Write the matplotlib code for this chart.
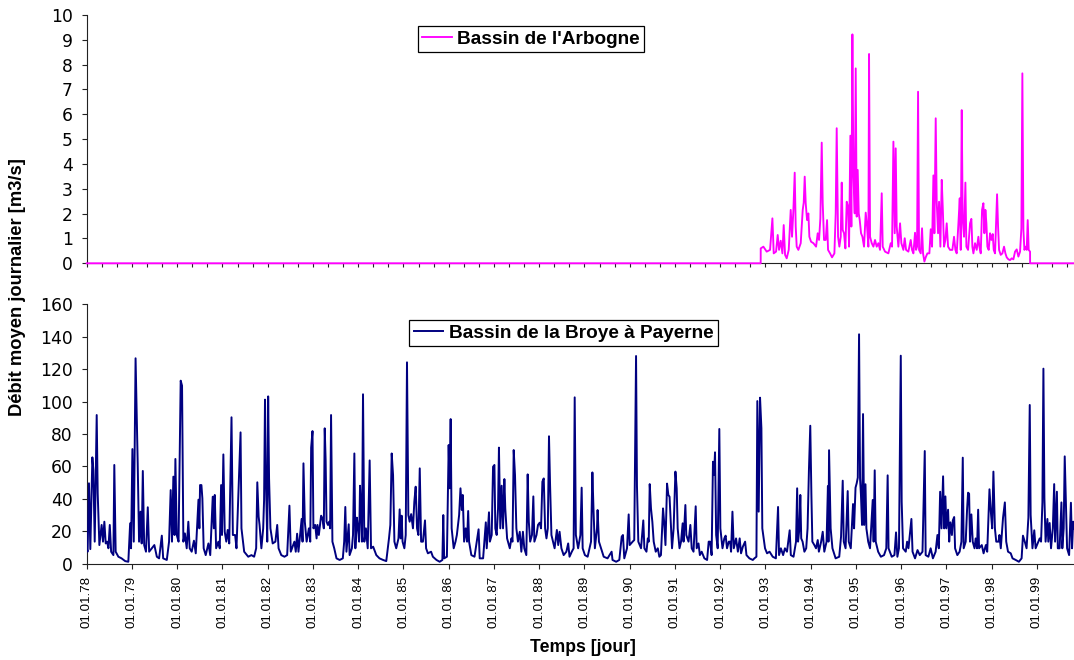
import matplotlib
matplotlib.use('Agg')
import matplotlib.pyplot as plt
import numpy as np

plt.rcParams['font.family'] = ['Liberation Sans', 'DejaVu Sans']

# ---------------- data (decimal years, m3/s) ----------------
arbogne_t = [1978.000, 1992.894,
             1992.895, 1992.954, 1993.027, 1993.101, 1993.153, 1993.182, 1993.234, 1993.270,
             1993.300, 1993.337, 1993.374, 1993.403, 1993.433, 1993.469, 1993.514, 1993.558,
             1993.587, 1993.617, 1993.646, 1993.668, 1993.690, 1993.727, 1993.779, 1993.823,
             1993.845, 1993.867, 1993.889, 1993.919, 1993.948, 1993.970, 1994.007, 1994.059,
             1994.118, 1994.154, 1994.184, 1994.213, 1994.243, 1994.265, 1994.294, 1994.331,
             1994.361, 1994.383, 1994.427, 1994.471, 1994.523, 1994.552, 1994.574, 1994.604,
             1994.633, 1994.663, 1994.685, 1994.707, 1994.736, 1994.766, 1994.795, 1994.825,
             1994.847, 1994.876, 1994.898, 1994.921, 1994.943, 1994.972, 1994.994, 1995.016,
             1995.038, 1995.061, 1995.083, 1995.112, 1995.142, 1995.178, 1995.215, 1995.245,
             1995.274, 1995.289, 1995.311, 1995.348, 1995.385, 1995.421, 1995.458, 1995.495,
             1995.532, 1995.569, 1995.591, 1995.642, 1995.716, 1995.768, 1995.797, 1995.827,
             1995.856, 1995.878, 1995.900, 1995.937, 1995.974, 1996.003, 1996.048, 1996.077,
             1996.107, 1996.158, 1996.210, 1996.239, 1996.269, 1996.305, 1996.328, 1996.350,
             1996.372, 1996.394, 1996.431, 1996.460, 1996.482, 1996.512, 1996.541, 1996.578,
             1996.622, 1996.652, 1996.681, 1996.711, 1996.733, 1996.762, 1996.784, 1996.814,
             1996.836, 1996.865, 1996.895, 1996.917, 1996.946, 1996.976, 1997.005, 1997.035,
             1997.079, 1997.130, 1997.167, 1997.197, 1997.226, 1997.263, 1997.293, 1997.315,
             1997.337, 1997.359, 1997.388, 1997.418, 1997.440, 1997.477, 1997.521, 1997.550,
             1997.572, 1997.595, 1997.631, 1997.668, 1997.705, 1997.727, 1997.757, 1997.786,
             1997.816, 1997.838, 1997.860, 1997.882, 1997.904, 1997.933, 1997.963, 1997.992,
             1998.022, 1998.044, 1998.073, 1998.118, 1998.140, 1998.162, 1998.199, 1998.235,
             1998.272, 1998.302, 1998.331, 1998.368, 1998.405, 1998.442, 1998.479, 1998.515,
             1998.552, 1998.589, 1998.626, 1998.655, 1998.677, 1998.700, 1998.722, 1998.751,
             1998.773, 1998.795, 1998.817, 1998.847,
             1998.848, 1999.820]
arbogne_q = [0.0, 0.0,
             0.60, 0.67, 0.47, 0.54, 1.81, 0.40, 0.47, 1.14,
             0.54, 0.91, 0.40, 1.54, 0.34, 0.20, 0.54, 2.15,
             1.07, 2.15, 3.65, 1.48, 0.67, 0.54, 0.81, 2.15,
             2.44, 3.49, 2.42, 1.74, 2.01, 1.07, 0.87, 0.81,
             0.67, 1.21, 0.94, 1.81, 4.86, 2.42, 0.94, 0.94,
             1.74, 0.54, 0.40, 0.24, 0.40, 2.01, 5.44, 1.07,
             0.67, 1.07, 3.25, 1.34, 1.21, 0.60, 2.48, 2.28,
             0.67, 5.14, 1.48, 9.22, 3.62, 2.01, 7.85, 1.88,
             3.76, 2.01, 1.74, 1.21, 1.07, 0.67, 2.04, 1.48,
             0.67, 8.43, 1.07, 0.81, 0.67, 0.94, 0.67, 0.81,
             0.54, 2.82, 0.67, 0.47, 0.40, 0.81, 0.67, 4.90,
             1.21, 4.63, 1.48, 0.67, 1.61, 0.81, 0.54, 1.01,
             0.54, 0.47, 0.94, 0.54, 0.40, 1.23, 0.54, 0.67,
             6.91, 0.54, 0.40, 1.41, 0.40, 0.07, 0.24, 0.40,
             0.40, 1.37, 0.67, 3.54, 1.21, 5.84, 2.48, 1.21,
             2.48, 0.67, 3.36, 2.28, 0.67, 0.94, 1.61, 0.67,
             0.54, 0.54, 1.07, 0.54, 0.40, 1.58, 2.62, 0.54,
             6.17, 1.74, 1.07, 3.25, 0.67, 0.54, 1.61, 1.79,
             0.67, 0.40, 0.81, 0.54, 1.07, 0.67, 0.40, 2.15,
             2.42, 1.21, 2.15, 1.61, 0.67, 0.54, 1.21, 0.94,
             1.18, 0.54, 0.40, 2.78, 1.48, 0.54, 0.34, 0.40,
             0.67, 0.40, 0.24, 0.16, 0.13, 0.20, 0.16, 0.47,
             0.56, 0.27, 0.47, 1.41, 7.65, 1.34, 0.54, 0.67,
             0.54, 1.74, 0.54, 0.47,
             0.0, 0.0]

broye_t = [1978.000, 1978.020, 1978.050, 1978.080, 1978.125, 1978.147, 1978.177, 1978.221, 1978.243, 1978.280,
           1978.330, 1978.360, 1978.390, 1978.420, 1978.450, 1978.480, 1978.510, 1978.540, 1978.590, 1978.610,
           1978.640, 1978.700, 1978.770, 1978.850, 1978.920, 1978.960, 1978.980, 1979.010, 1979.040, 1979.080,
           1979.105, 1979.127, 1979.157, 1979.190, 1979.215, 1979.240, 1979.270, 1979.310, 1979.350, 1979.380,
           1979.440, 1979.495, 1979.550, 1979.600, 1979.660, 1979.690, 1979.770, 1979.820, 1979.856, 1979.885,
           1979.915, 1979.940, 1979.960, 1979.990, 1980.030, 1980.077, 1980.107, 1980.136, 1980.170, 1980.210,
           1980.246, 1980.276, 1980.320, 1980.370, 1980.410, 1980.470, 1980.490, 1980.505, 1980.535, 1980.556,
           1980.585, 1980.630, 1980.690, 1980.730, 1980.785, 1980.810, 1980.830, 1980.860, 1980.910, 1980.940,
           1980.970, 1980.990, 1981.020, 1981.050, 1981.085, 1981.115, 1981.150, 1981.180, 1981.200, 1981.230,
           1981.280, 1981.310, 1981.400, 1981.420, 1981.480, 1981.570, 1981.640, 1981.700, 1981.745, 1981.770,
           1981.800, 1981.820, 1981.860, 1981.900, 1981.920, 1981.940, 1981.960, 1981.990, 1982.010, 1982.030,
           1982.060, 1982.110, 1982.170, 1982.210, 1982.240, 1982.300, 1982.370, 1982.430, 1982.480, 1982.510,
           1982.590, 1982.620, 1982.650, 1982.680, 1982.750, 1982.770, 1982.790, 1982.820, 1982.860, 1982.910,
           1982.940, 1982.960, 1982.990, 1983.010, 1983.050, 1983.080, 1983.100, 1983.130, 1983.180, 1983.210,
           1983.240, 1983.260, 1983.280, 1983.300, 1983.330, 1983.360, 1983.380, 1983.400, 1983.430, 1983.470,
           1983.520, 1983.590, 1983.660, 1983.690, 1983.715, 1983.740, 1983.790, 1983.810, 1983.860, 1983.885,
           1983.915, 1983.937, 1983.970, 1983.995, 1984.020, 1984.040, 1984.060, 1984.083, 1984.106, 1984.135,
           1984.170, 1984.210, 1984.253, 1984.283, 1984.330, 1984.400, 1984.470, 1984.550, 1984.620, 1984.680,
           1984.710, 1984.740, 1984.770, 1984.800, 1984.840, 1984.890, 1984.916, 1984.940, 1984.960, 1984.980,
           1985.020, 1985.050, 1985.078, 1985.108, 1985.137, 1985.170, 1985.210, 1985.240, 1985.270, 1985.300,
           1985.330, 1985.360, 1985.390, 1985.430, 1985.476, 1985.500, 1985.540, 1985.610, 1985.650, 1985.730,
           1985.800, 1985.860, 1985.880, 1985.900, 1985.960, 1985.999, 1986.020, 1986.043, 1986.065, 1986.110,
           1986.150, 1986.180, 1986.230, 1986.260, 1986.290, 1986.310, 1986.340, 1986.375, 1986.405, 1986.430,
           1986.450, 1986.500, 1986.570, 1986.660, 1986.685, 1986.760, 1986.820, 1986.840, 1986.890, 1986.910,
           1986.950, 1986.980, 1987.010, 1987.030, 1987.060, 1987.090, 1987.110, 1987.140, 1987.170, 1987.200,
           1987.230, 1987.250, 1987.290, 1987.350, 1987.385, 1987.410, 1987.436, 1987.465, 1987.495, 1987.530,
           1987.570, 1987.605, 1987.640, 1987.670, 1987.715, 1987.745, 1987.770, 1987.800, 1987.840, 1987.870,
           1987.893, 1987.940, 1987.973, 1988.010, 1988.040, 1988.070, 1988.100, 1988.130, 1988.160, 1988.190,
           1988.216, 1988.240, 1988.270, 1988.305, 1988.340, 1988.390, 1988.420, 1988.450, 1988.490, 1988.540,
           1988.600, 1988.640, 1988.670, 1988.720, 1988.760, 1988.784, 1988.810, 1988.860, 1988.910, 1988.938,
           1988.960, 1989.010, 1989.070, 1989.145, 1989.175, 1989.200, 1989.230, 1989.277, 1989.290, 1989.320,
           1989.366, 1989.425, 1989.510, 1989.600, 1989.620, 1989.700, 1989.770, 1989.823, 1989.850, 1989.880,
           1989.940, 1989.977, 1989.999, 1990.065, 1990.100, 1990.140, 1990.160, 1990.190, 1990.250, 1990.300,
           1990.324, 1990.370, 1990.400, 1990.420, 1990.442, 1990.470, 1990.500, 1990.530, 1990.575, 1990.620,
           1990.655, 1990.690, 1990.736, 1990.760, 1990.790, 1990.825, 1990.854, 1990.880, 1990.906, 1990.935,
           1990.970, 1991.010, 1991.038, 1991.060, 1991.100, 1991.134, 1991.170, 1991.190, 1991.230, 1991.250,
           1991.300, 1991.340, 1991.370, 1991.410, 1991.458, 1991.480, 1991.520, 1991.550, 1991.590, 1991.650,
           1991.710, 1991.745, 1991.775, 1991.810, 1991.840, 1991.863, 1991.885, 1991.910, 1991.944, 1991.980,
           1992.003, 1992.050, 1992.090, 1992.120, 1992.150, 1992.190, 1992.220, 1992.240, 1992.270, 1992.300,
           1992.350, 1992.390, 1992.430, 1992.460, 1992.500, 1992.550, 1992.580, 1992.645, 1992.720, 1992.755,
           1992.800, 1992.820, 1992.850, 1992.880, 1992.910, 1992.930, 1992.960, 1992.990, 1993.035, 1993.090,
           1993.160, 1993.230, 1993.278, 1993.300, 1993.340, 1993.390, 1993.430, 1993.475, 1993.535, 1993.560,
           1993.620, 1993.675, 1993.700, 1993.720, 1993.750, 1993.770, 1993.790, 1993.820, 1993.860, 1993.900,
           1993.930, 1993.960, 1993.990, 1994.015, 1994.036, 1994.080, 1994.117, 1994.155, 1994.180, 1994.230,
           1994.265, 1994.300, 1994.350, 1994.380, 1994.392, 1994.405, 1994.440, 1994.480, 1994.550, 1994.630,
           1994.670, 1994.707, 1994.730, 1994.770, 1994.817, 1994.840, 1994.885, 1994.935, 1994.958, 1994.990,
           1995.016, 1995.040, 1995.068, 1995.090, 1995.110, 1995.134, 1995.156, 1995.180, 1995.210, 1995.230,
           1995.270, 1995.310, 1995.370, 1995.390, 1995.414, 1995.436, 1995.490, 1995.550, 1995.620, 1995.670,
           1995.700, 1995.720, 1995.790, 1995.850, 1995.885, 1995.915, 1995.950, 1995.990, 1996.010, 1996.040,
           1996.100, 1996.130, 1996.160, 1996.225, 1996.250, 1996.305, 1996.360, 1996.410, 1996.470, 1996.520,
           1996.540, 1996.600, 1996.650, 1996.700, 1996.760, 1996.800, 1996.830, 1996.860, 1996.890, 1996.925,
           1996.950, 1996.976, 1996.998, 1997.035, 1997.060, 1997.086, 1997.120, 1997.140, 1997.170, 1997.190,
           1997.240, 1997.290, 1997.330, 1997.360, 1997.380, 1997.425, 1997.455, 1997.477, 1997.500, 1997.520,
           1997.550, 1997.580, 1997.620, 1997.645, 1997.675, 1997.700, 1997.720, 1997.780, 1997.820, 1997.870,
           1997.900, 1997.950, 1997.980, 1998.010, 1998.037, 1998.070, 1998.100, 1998.150, 1998.170, 1998.200,
           1998.250, 1998.290, 1998.320, 1998.360, 1998.420, 1998.460, 1998.530, 1998.600, 1998.660, 1998.690,
           1998.730, 1998.770, 1998.810, 1998.840, 1998.860, 1998.900, 1998.940, 1998.970, 1999.030, 1999.060,
           1999.090, 1999.120, 1999.142, 1999.164, 1999.190, 1999.230, 1999.250, 1999.280, 1999.310, 1999.350,
           1999.380, 1999.400, 1999.440, 1999.460, 1999.500, 1999.540, 1999.560, 1999.590, 1999.613, 1999.635,
           1999.665, 1999.710, 1999.750, 1999.775, 1999.800, 1999.820]
broye_q = [9.5, 7.4, 49.6, 9.0, 65.6, 57.8, 13.6, 91.7, 43.4, 11.5,
           23.9, 13.6, 25.9, 12.5, 13.6, 9.5, 23.9, 7.4, 5.3, 60.9,
           7.4, 4.3, 3.3, 1.6, 1.2, 24.9, 9.5, 70.7, 13.6, 126.7,
           92.1, 61.9, 13.6, 32.1, 12.5, 57.2, 11.5, 7.4, 34.8, 7.4,
           9.5, 11.5, 4.3, 3.3, 17.3, 3.3, 2.3, 13.6, 45.4, 13.6,
           53.7, 17.7, 64.6, 17.7, 13.6, 112.9, 109.8, 13.6, 18.7, 9.5,
           25.9, 9.5, 7.4, 14.2, 6.4, 39.5, 21.8, 48.5, 48.5, 40.3,
           9.5, 5.3, 12.5, 5.3, 41.3, 21.8, 42.4, 9.5, 13.6, 9.5,
           48.5, 17.7, 67.4, 19.7, 13.6, 20.8, 12.5, 59.6, 90.3, 17.7,
           17.7, 9.5, 81.0, 21.8, 7.4, 4.3, 5.3, 4.3, 9.5, 50.2,
           29.0, 23.9, 9.5, 21.8, 39.3, 101.2, 53.7, 13.6, 103.2, 52.6,
           21.8, 12.5, 13.6, 23.9, 9.5, 5.3, 4.3, 5.3, 35.8, 7.4,
           13.6, 7.4, 18.5, 7.4, 27.6, 13.6, 61.9, 25.9, 13.6, 21.8,
           13.6, 71.6, 81.8, 21.8, 23.9, 15.6, 23.9, 17.7, 29.6, 28.0,
           21.8, 83.5, 64.0, 25.9, 23.9, 25.9, 21.8, 91.7, 13.6, 9.5,
           3.3, 2.3, 3.3, 13.6, 35.0, 7.4, 24.3, 5.3, 9.5, 17.7,
           68.0, 9.5, 28.4, 21.8, 13.6, 48.1, 34.1, 13.6, 104.5, 13.6,
           21.8, 9.5, 63.7, 9.5, 10.5, 5.3, 3.3, 2.3, 1.6, 15.6,
           23.9, 68.0, 54.7, 13.6, 9.5, 15.6, 33.5, 15.6, 29.6, 13.6,
           9.5, 17.7, 124.2, 30.0, 25.9, 30.6, 21.8, 38.2, 47.5, 21.8,
           17.7, 58.8, 13.6, 13.6, 26.7, 9.5, 6.4, 7.4, 4.3, 2.3,
           1.2, 2.3, 30.0, 3.3, 4.3, 73.2, 46.5, 89.2, 21.8, 9.5,
           13.6, 17.7, 30.0, 46.5, 33.1, 42.4, 13.6, 21.8, 13.6, 32.5,
           13.6, 5.3, 4.3, 21.2, 3.3, 3.3, 25.5, 9.5, 31.7, 13.6,
           17.7, 59.8, 60.9, 21.8, 17.7, 34.1, 71.6, 21.8, 48.1, 21.8,
           52.2, 34.1, 15.6, 9.5, 15.6, 13.6, 70.1, 54.7, 21.8, 13.6,
           19.7, 7.4, 19.7, 9.5, 5.3, 55.1, 25.9, 13.6, 17.7, 41.5,
           13.6, 17.7, 23.9, 25.3, 21.8, 50.6, 52.6, 21.8, 15.6, 21.8,
           78.6, 48.5, 17.7, 13.6, 9.5, 20.8, 11.5, 19.7, 9.5, 5.3,
           7.4, 12.5, 4.3, 7.4, 9.5, 102.6, 17.7, 9.5, 17.7, 46.9,
           9.5, 5.3, 4.3, 13.6, 56.3, 33.1, 9.5, 21.8, 33.1, 13.6,
           9.5, 4.3, 3.3, 7.4, 2.3, 1.2, 2.3, 16.7, 17.7, 3.3,
           9.5, 30.4, 11.5, 13.6, 14.6, 128.1, 48.1, 13.6, 9.5, 26.7,
           9.5, 7.4, 15.6, 13.6, 49.1, 34.1, 25.9, 13.6, 7.4, 9.5,
           4.3, 5.3, 34.1, 25.9, 11.5, 49.4, 42.4, 41.3, 25.9, 9.5,
           21.8, 56.8, 46.5, 21.8, 9.5, 13.6, 24.9, 13.6, 36.2, 17.7,
           13.6, 23.9, 9.5, 7.4, 35.4, 9.5, 12.5, 5.3, 7.4, 3.3,
           2.3, 13.6, 13.6, 5.3, 62.9, 54.7, 68.7, 17.7, 9.5, 83.1,
           21.8, 9.5, 15.6, 17.3, 9.5, 13.6, 13.6, 7.4, 32.1, 9.5,
           15.6, 7.4, 15.6, 6.4, 10.5, 13.6, 5.3, 3.3, 2.3, 3.3,
           4.3, 100.3, 32.1, 102.4, 83.5, 21.8, 15.6, 9.5, 6.4, 7.4,
           4.3, 3.3, 35.0, 5.3, 9.5, 5.3, 9.5, 7.4, 20.6, 5.3,
           4.3, 13.6, 46.5, 13.6, 21.8, 42.4, 15.6, 13.6, 7.4, 9.5,
           21.8, 57.4, 85.1, 42.4, 13.6, 11.5, 9.5, 14.6, 7.4, 13.6,
           19.7, 7.4, 13.6, 47.9, 13.6, 70.0, 21.8, 9.5, 3.3, 4.3,
           16.7, 51.2, 13.6, 9.5, 44.8, 13.6, 9.5, 36.8, 21.8, 46.9,
           49.6, 53.1, 141.5, 52.6, 42.4, 23.9, 92.3, 23.9, 49.0, 21.8,
           13.6, 9.5, 39.3, 13.6, 57.6, 13.6, 7.4, 4.3, 5.3, 9.5,
           54.5, 9.5, 4.3, 5.3, 19.3, 4.3, 9.5, 128.3, 38.2, 9.5,
           7.4, 13.6, 9.5, 27.6, 7.4, 3.3, 8.4, 5.3, 7.4, 69.5,
           5.3, 4.3, 9.5, 3.3, 7.4, 17.7, 9.5, 44.4, 21.8, 53.9,
           21.8, 41.5, 21.8, 33.3, 13.6, 25.5, 17.7, 26.7, 28.8, 9.5,
           5.3, 7.4, 13.6, 65.4, 9.5, 13.6, 33.5, 43.8, 43.2, 13.6,
           30.4, 13.6, 9.5, 15.6, 9.5, 33.3, 9.5, 11.5, 6.4, 11.5,
           7.4, 45.9, 32.1, 21.8, 56.8, 21.8, 13.6, 13.6, 17.7, 9.5,
           28.4, 37.8, 13.6, 7.4, 6.4, 3.3, 2.3, 1.2, 3.3, 17.3,
           13.6, 9.5, 28.4, 97.9, 30.0, 9.5, 20.6, 9.5, 13.6, 15.6,
           13.6, 37.8, 120.3, 40.3, 13.6, 27.6, 13.6, 25.1, 9.5, 21.8,
           49.1, 13.6, 44.4, 9.5, 9.5, 37.8, 9.5, 21.8, 66.2, 42.4,
           9.5, 5.3, 37.6, 9.5, 25.9, 21.8]

year_ticks = list(range(1978, 2000))
year_labels = [f"01.01.{y % 100:02d}" for y in year_ticks]
top_yticks = list(range(0, 11))
bottom_yticks = list(range(0, 161, 20))
label_top = "Bassin de l'Arbogne"
label_bottom = "Bassin de la Broye à Payerne"

# ---------------- figure ----------------
W, H = 1074, 660
fig = plt.figure(figsize=(W / 100, H / 100), dpi=100)
x_left = 86.7 / W
ax1 = fig.add_axes([x_left, 1 - 263.3 / H, 1 - x_left, (263.3 - 15) / H])
ax2 = fig.add_axes([x_left, 1 - 563.7 / H, 1 - x_left, (563.7 - 304.3) / H])

x_end = 1999.818
spine_col = '#222222'

ax1.plot(arbogne_t, arbogne_q, color='#FF00FF', lw=1.35, label=label_top, clip_on=False, zorder=3)
ax2.plot(broye_t, broye_q, color='#000080', lw=1.4, label=label_bottom, zorder=3)

ax1.set_ylim(0, 10)
ax1.set_yticks(top_yticks)
ax1.set_xticks(np.arange(1978, x_end, 1 / 3))
ax1.set_xticklabels([])

ax2.set_ylim(0, 160)
ax2.set_yticks(bottom_yticks)
ax2.set_xticks(year_ticks)
ax2.set_xticklabels(year_labels, rotation=90)

for ax in (ax1, ax2):
    ax.set_xlim(1978, x_end)
    for s in ('top', 'right'):
        ax.spines[s].set_visible(False)
    for s in ('left', 'bottom'):
        ax.spines[s].set_color(spine_col)
        ax.spines[s].set_linewidth(0.8)
    ax.tick_params(axis='x', direction='out', length=3.6, width=0.8, color=spine_col,
                   labelsize=9.6, labelcolor='black', pad=5)
    ax.tick_params(axis='y', direction='out', length=3.6, width=0.8, color=spine_col,
                   labelsize=12.3, labelcolor='black', pad=6.3)
    for lab in ax.get_yticklabels():
        lab.set_family(['DejaVu Sans'])
ax1.tick_params(axis='x', length=3)

leg_kw = dict(loc='center', bbox_transform=fig.transFigure, frameon=True, fancybox=False,
              edgecolor='black', framealpha=1, prop={'weight': 'bold', 'size': 13.7},
              handlelength=1.55, handletextpad=0.3, borderpad=0.22, borderaxespad=0)
l1 = ax1.legend(bbox_to_anchor=(531 / W, 1 - 39 / H), **leg_kw)
l2 = ax2.legend(bbox_to_anchor=(563.5 / W, 1 - 333 / H), **leg_kw)
for l in (l1, l2):
    l.get_frame().set_linewidth(0.9)
    l.get_frame().set_boxstyle('square', pad=0)

fig.text(18 / W, 1 - 287 / H, 'Débit moyen journalier [m3/s]', rotation=90,
         ha='center', va='center', fontsize=13.2, weight='bold')
fig.text(583 / W, 1 - 648 / H, 'Temps [jour]', ha='center', va='center',
         fontsize=12.7, weight='bold')

fig.savefig('out.png', dpi=100)
